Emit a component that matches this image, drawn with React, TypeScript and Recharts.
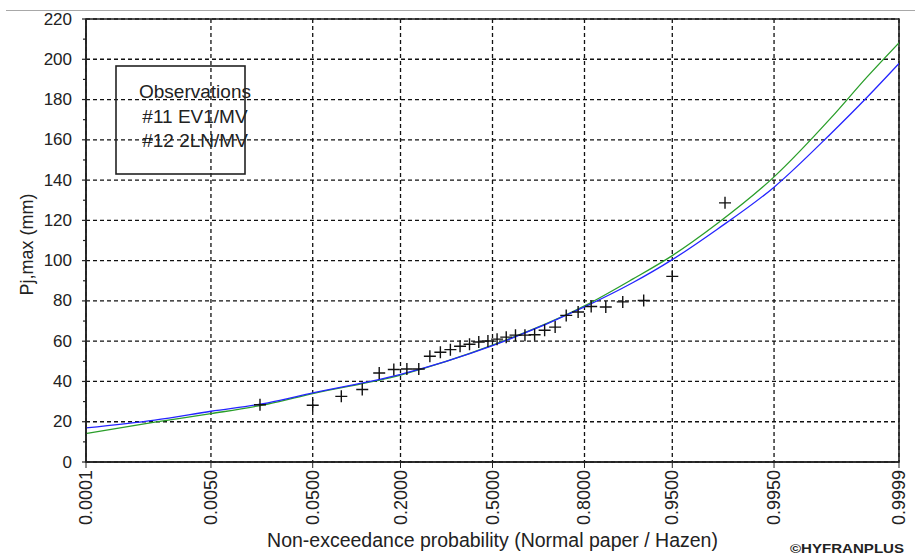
import React from 'react';
import {
  ComposedChart,
  Line,
  Scatter,
  XAxis,
  YAxis,
  CartesianGrid,
  ReferenceArea,
  Legend,
} from 'recharts';

// x axis: normal probability paper, ticks as non-exceedance probabilities
const TICK_PROBS = [0.0001, 0.005, 0.05, 0.2, 0.5, 0.8, 0.95, 0.995, 0.9999];
const TICK_LABELS = ['0.0001', '0.0050', '0.0500', '0.2000', '0.5000', '0.8000', '0.9500', '0.9950', '0.9999'];

const Y_MAJOR = [0, 20, 40, 60, 80, 100, 120, 140, 160, 180, 200, 220];
const Y_ALL = [0, 10, 20, 30, 40, 50, 60, 70, 80, 90, 100, 110, 120, 130, 140, 150, 160, 170, 180, 190, 200, 210, 220];

// observations (Hazen plotting positions)
const OBS_PROB = [
  0.0167, 0.05, 0.0833, 0.1167, 0.15, 0.1833, 0.2167, 0.25, 0.2833, 0.3167,
  0.35, 0.3833, 0.4167, 0.45, 0.4833, 0.5167, 0.55, 0.5833, 0.6167, 0.65,
  0.6833, 0.7167, 0.75, 0.7833, 0.8167, 0.85, 0.8833, 0.9167, 0.95, 0.9833,
];
const OBS_VALUE = [
  28.4, 28.2, 32.6, 36.0, 44.2, 45.9, 46.2, 46.2, 52.5, 54.5,
  55.8, 57.5, 58.5, 59.6, 60.1, 61.0, 62.0, 63.0, 63.0, 63.2,
  65.4, 67.0, 72.8, 74.5, 77.2, 77.0, 79.5, 80.2, 92.2, 128.7,
];

// fitted quantile curves
const CURVE_PROBS = [0.0001, 0.001, 0.005, 0.02, 0.05, 0.2, 0.5, 0.8, 0.9, 0.95, 0.98, 0.995, 0.999, 0.9997, 0.9999];
const EV1_VALUES = [14.1, 19.8, 24.0, 28.8, 34.0, 43.2, 58.0, 77.5, 90.8, 102.5, 118.3, 141.6, 170.5, 191.5, 208.2];
const LN2_VALUES = [16.9, 20.8, 25.2, 29.4, 34.3, 43.5, 57.8, 77.0, 89.0, 100.5, 115.5, 136.5, 162.8, 181.4, 197.9];

const LEGEND_LINES = ['Observations', '#11 EV1/MV', '#12 2LN/MV'];

const FONT = 'Arial, "Liberation Sans", sans-serif';

// inverse standard normal cdf (Acklam)
const probit = (p: number): number => {
  const a = [-39.69683028665376, 220.9460984245205, -275.9285104469687, 138.357751867269, -30.66479806614716, 2.506628277459239];
  const b = [-54.47609879822406, 161.5858368580409, -155.6989798598866, 66.80131188771972, -13.28068155288572];
  const c = [-0.007784894002430293, -0.3223964580411365, -2.400758277161838, -2.549732539343734, 4.374664141464968, 2.938163982698783];
  const d = [0.007784695709041462, 0.3224671290700398, 2.445134137142996, 3.754408661907416];
  const plow = 0.02425;
  if (p < plow) {
    const q = Math.sqrt(-2 * Math.log(p));
    return (((((c[0] * q + c[1]) * q + c[2]) * q + c[3]) * q + c[4]) * q + c[5]) /
      ((((d[0] * q + d[1]) * q + d[2]) * q + d[3]) * q + 1);
  }
  if (p > 1 - plow) {
    const q = Math.sqrt(-2 * Math.log(1 - p));
    return -(((((c[0] * q + c[1]) * q + c[2]) * q + c[3]) * q + c[4]) * q + c[5]) /
      ((((d[0] * q + d[1]) * q + d[2]) * q + d[3]) * q + 1);
  }
  const q = p - 0.5;
  const r = q * q;
  return (((((a[0] * r + a[1]) * r + a[2]) * r + a[3]) * r + a[4]) * r + a[5]) * q /
    (((((b[0] * r + b[1]) * r + b[2]) * r + b[3]) * r + b[4]) * r + 1);
};

const tickZ = TICK_PROBS.map(probit);
const zMin = tickZ[0];
const zMax = tickZ[tickZ.length - 1];

const obsData = OBS_PROB.map((p, i) => ({ z: probit(p), v: OBS_VALUE[i] }));
const ev1Data = CURVE_PROBS.map((p, i) => ({ z: probit(p), v: EV1_VALUES[i] }));
const ln2Data = CURVE_PROBS.map((p, i) => ({ z: probit(p), v: LN2_VALUES[i] }));

const labelFor = (z: number) => {
  let best = 0;
  tickZ.forEach((t, i) => {
    if (Math.abs(t - z) < Math.abs(tickZ[best] - z)) best = i;
  });
  return TICK_LABELS[best];
};

const XTick = (props: any) => {
  const { x, y, payload } = props;
  return (
    <text
      x={x}
      y={y}
      transform={`rotate(-90 ${x} ${y})`}
      textAnchor="end"
      dominantBaseline="central"
      fontSize={18}
      fontFamily={FONT}
      fill="#222"
    >
      {labelFor(payload.value)}
    </text>
  );
};

const YTick = (props: any) => {
  const { x, y, payload } = props;
  const major = payload.value % 20 === 0;
  return (
    <g>
      <line x1={x + (major ? 10 : 11)} x2={x + 14} y1={y} y2={y} stroke="#222" strokeWidth={1.2} />
      {major && (
        <text x={x} y={y} textAnchor="end" dominantBaseline="central" fontSize={17} fontFamily={FONT} fill="#222">
          {payload.value}
        </text>
      )}
    </g>
  );
};

const Cross = (props: any) => {
  const { cx, cy } = props;
  if (cx == null || cy == null) return null;
  return <path d={`M${cx - 6},${cy}H${cx + 6}M${cx},${cy - 6}V${cy + 6}`} stroke="#111" strokeWidth={1.4} fill="none" />;
};

const LegendBox = () => (
  <svg width={150} height={120} style={{ overflow: 'visible' }}>
    <rect x={6} y={6} width={129} height={108} fill="none" stroke="#222" strokeWidth={1.6} />
    {LEGEND_LINES.map((t, i) => (
      <text key={t} x={85} y={38 + i * 24.5} textAnchor="middle" fontSize={19} fontFamily={FONT} fill="#222">
        {t}
      </text>
    ))}
  </svg>
);

export default function App() {
  return (
    <div style={{ position: 'absolute', left: 0, top: 0, width: 915, height: 558, background: '#fff' }}>
      <div style={{ position: 'absolute', left: 6, top: 10, width: 909, height: 1, background: '#a8a8a8' }} />
      <ComposedChart width={915} height={558} margin={{ top: 19, right: 16, bottom: 0, left: 0 }}>
        <CartesianGrid
          stroke="#111"
          strokeWidth={1.3}
          strokeDasharray="4 3"
          horizontalValues={Y_MAJOR}
          verticalValues={tickZ}
        />
        <XAxis
          type="number"
          dataKey="z"
          domain={[zMin, zMax]}
          ticks={tickZ}
          interval={0}
          allowDataOverflow
          height={96}
          tickSize={6}
          tickMargin={2}
          tick={<XTick />}
          axisLine={{ stroke: '#222', strokeWidth: 1.6 }}
          tickLine={{ stroke: '#222' }}
          label={{
            value: 'Non-exceedance probability (Normal paper / Hazen)',
            position: 'insideBottom',
            offset: 11,
            style: { fontSize: 19.5, fontFamily: FONT, fill: '#222' },
          }}
        />
        <YAxis
          type="number"
          domain={[0, 220]}
          ticks={Y_ALL}
          interval={0}
          width={86}
          tickSize={4}
          tickMargin={10}
          tickLine={false}
          tick={<YTick />}
          axisLine={{ stroke: '#222', strokeWidth: 1.6 }}
          label={{
            value: 'Pj,max (mm)',
            angle: -90,
            position: 'insideLeft',
            offset: 27,
            dy: 4,
            style: { textAnchor: 'middle', fontSize: 18, fontFamily: FONT, fill: '#222' },
          }}
        />
        <ReferenceArea
          x1={zMin}
          x2={zMax}
          y1={0}
          y2={220}
          fill="none"
          fillOpacity={0}
          stroke="#222"
          strokeWidth={1.6}
          ifOverflow="visible"
        />
        <Line
          data={ev1Data}
          dataKey="v"
          type="monotone"
          stroke="#2a9e2a"
          strokeWidth={1.3}
          dot={false}
          isAnimationActive={false}
        />
        <Line
          data={ln2Data}
          dataKey="v"
          type="monotone"
          stroke="#2424ff"
          strokeWidth={1.3}
          dot={false}
          isAnimationActive={false}
        />
        <Scatter data={obsData} dataKey="v" shape={<Cross />} isAnimationActive={false} />
        <Legend
          layout="vertical"
          align="center"
          verticalAlign="middle"
          content={() => <LegendBox />}
          wrapperStyle={{ left: 110, top: 60, width: 150, height: 120 }}
        />
      </ComposedChart>
      <svg style={{ position: 'absolute', left: 0, top: 0 }} width={915} height={558} pointerEvents="none">
        <text x={790} y={553} fontSize={12} fontWeight="bold" fontFamily={FONT} fill="#222" textLength={114} lengthAdjust="spacingAndGlyphs">
          ©HYFRANPLUS
        </text>
      </svg>
    </div>
  );
}
